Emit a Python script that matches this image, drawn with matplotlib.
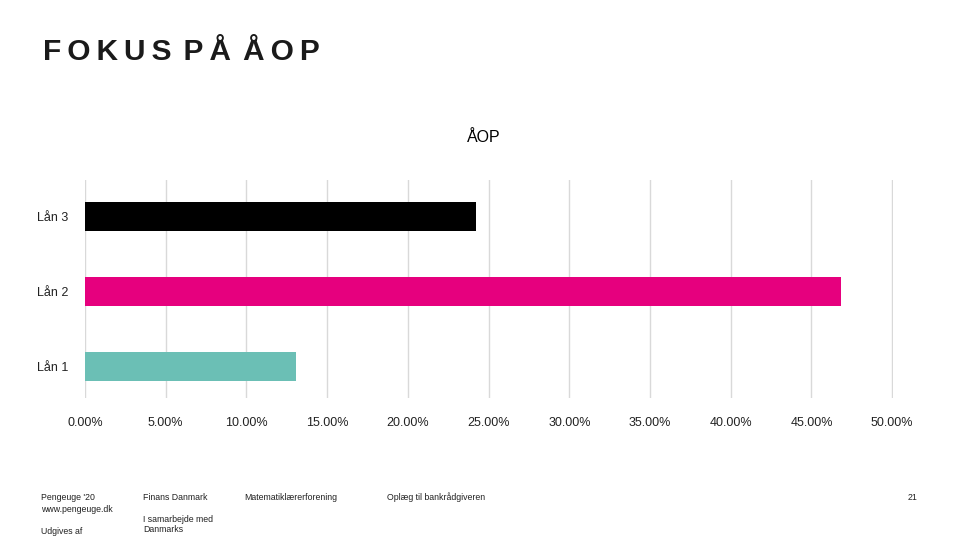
import matplotlib.pyplot as plt
from matplotlib.ticker import FuncFormatter

loans = ["Lån 1", "Lån 2", "Lån 3"]
aop = [13.1, 46.8, 24.2]
colors = ["#6bbfb5", "#e6007e", "#000000"]
xticks = [0, 5, 10, 15, 20, 25, 30, 35, 40, 45, 50]

plt.rcParams['font.family'] = ['Liberation Sans', 'DejaVu Sans']

fig = plt.figure(figsize=(9.6, 5.4), dpi=100)
ax = fig.add_axes([85 / 960, 1 - 398 / 540, (893 - 85) / 960, (398 - 180) / 540])

ax.barh(range(len(loans)), aop, height=0.39, color=colors)
ax.set_xlim(0, 50.05)
ax.set_ylim(-0.42, 2.49)
ax.set_xticks(xticks)
ax.xaxis.set_major_formatter(FuncFormatter(lambda v, p: f"{v:.2f}%"))
ax.set_yticks(range(len(loans)))
ax.set_yticklabels(loans)
ax.tick_params(length=0, labelsize=9, colors="#222222")
ax.tick_params(axis="x", pad=14)
ax.tick_params(axis="y", pad=12)
ax.grid(axis="x", color="#d9d9d9", linewidth=1)
ax.set_axisbelow(True)
for s in ax.spines.values():
    s.set_visible(False)

fig.text(484 / 960, 1 - 138 / 540, "ÅOP", ha="center", va="center", fontsize=11.5)
fig.text(43 / 960, 1 - 52 / 540, "F O K U S  P Å  Å O P".replace(" ", "\u2009"),
         ha="left", va="center", fontsize=21.5, fontweight="bold", color="#1a1a1a")

small = dict(fontsize=6.3, color="#222222", va="center", ha="left")
fig.text(41 / 960, 1 - 497 / 540, "Pengeuge '20", **small)
fig.text(41 / 960, 1 - 509 / 540, "www.pengeuge.dk", **small)
fig.text(41 / 960, 1 - 531 / 540, "Udgives af", **small)
fig.text(143 / 960, 1 - 497 / 540, "Finans Danmark", **small)
fig.text(143 / 960, 1 - 519 / 540, "I samarbejde med", **small)
fig.text(143 / 960, 1 - 530 / 540, "Danmarks", **small)
fig.text(244 / 960, 1 - 497 / 540, "Matematiklærerforening", **small)
fig.text(387 / 960, 1 - 497 / 540, "Oplæg til bankrådgiveren", **small)
fig.text(917 / 960, 1 - 497 / 540, "21", fontsize=6.3, color="#222222", va="center", ha="right")

fig.savefig("out.png", dpi=100)
